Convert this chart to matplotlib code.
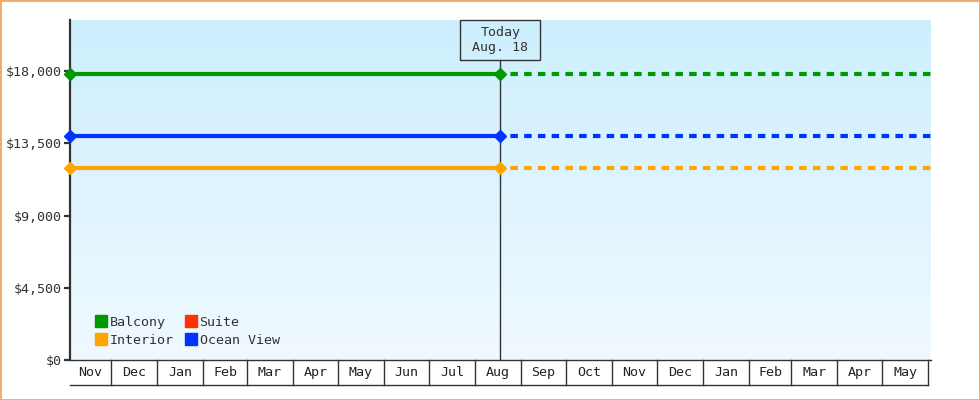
import numpy as np
import pandas as pd
import matplotlib
matplotlib.use("Agg")
import matplotlib.pyplot as plt
import matplotlib.dates as mdates
import matplotlib.transforms as mtransforms
from matplotlib.patches import Rectangle
from matplotlib.lines import Line2D

# ---------------------------------------------------------
# DATA
# ---------------------------------------------------------
start_date = pd.Timestamp("2023-11-03 12:00")
today = pd.Timestamp("2024-08-18")
end_date = pd.Timestamp("2025-06-02 14:00")

series_names = ["Balcony", "Interior", "Suite", "Ocean View"]
series_colors = ["#009900", "#ffa500", "#ff3300", "#0033ff"]
# price history (start, today) -- Suite has no prices
balcony = [17830, 17830]
interior = [11975, 11975]
suite = []
ocean_view = [13970, 13970]

y_ticks = [0, 4500, 9000, 13500, 18000]
y_max = 21200
today_label = "Today\nAug. 18"

# ---------------------------------------------------------
# STYLE
# ---------------------------------------------------------
plt.rcParams["font.family"] = ["DejaVu Sans Mono"]
plt.rcParams["font.size"] = 9.6
TXT = "#333333"

fig = plt.figure(figsize=(9.8, 4), dpi=100)
ax = fig.add_axes([70 / 980, 40 / 400, 860.7 / 980, 340 / 400])

# gradient background
grad = np.linspace(0, 1, 256).reshape(-1, 1)
cmap = matplotlib.colors.LinearSegmentedColormap.from_list("bg", ["#cdeffd", "#f0f9ff"])
ax.imshow(grad, cmap=cmap, aspect="auto", extent=[0, 1, 0, 1],
          transform=ax.transAxes, zorder=0)

x0 = mdates.date2num(start_date)
x1 = mdates.date2num(end_date)
xt = mdates.date2num(today)
ax.set_xlim(x0, x1)
ax.set_ylim(0, y_max)

# lines: solid history, dotted projection
history = [balcony, interior, suite, ocean_view]
for vals, col in zip(history, series_colors):
    if not vals:
        continue
    ax.plot([x0, xt], vals, color=col, lw=3, solid_capstyle="butt", zorder=3,
            clip_on=False)
    ax.plot([x0, xt], vals, ls="none", marker="D", ms=6, color=col, zorder=4,
            clip_on=False)
    ax.plot([xt, x1], [vals[-1], vals[-1]], color=col, lw=3,
            ls=(0.8, (1.8, 1.5)), zorder=3)

# today marker line and box
xaxis_tr = ax.get_xaxis_transform()
ax.plot([xt, xt], [0, 1 - 40.3 / 340], color=TXT, lw=1, transform=xaxis_tr, zorder=2)
box_tr = fig.dpi_scale_trans + mtransforms.ScaledTranslation(xt, 1.0, xaxis_tr)
ax.add_patch(Rectangle((-0.40, -0.403), 0.80, 0.403, transform=box_tr, fill=False,
                       ec=TXT, lw=1, clip_on=False, zorder=5))
ax.text(0, -0.2, today_label, transform=box_tr, ha="center", va="center",
        color=TXT, linespacing=1.25, zorder=6)

# y axis
ax.set_yticks(y_ticks)
ax.set_yticklabels([f"${v:,}" for v in y_ticks])
ax.tick_params(axis="y", length=4, width=1.6, color=TXT, labelcolor=TXT, pad=2)
ax.set_xticks([])
for s in ["top", "right"]:
    ax.spines[s].set_visible(False)
ax.spines["left"].set_color(TXT)
ax.spines["left"].set_linewidth(1.6)
ax.spines["bottom"].set_color(TXT)
ax.spines["bottom"].set_linewidth(1)

# month cells under the axis
month_starts = pd.date_range("2023-11-01", "2025-06-01", freq="MS")
cell_h = 25 / 340
edges = [mdates.date2num(d) for d in month_starts]
for e in edges:
    if x0 < e <= x1:
        ax.plot([e, e], [0, -cell_h], color=TXT, lw=1, transform=xaxis_tr, clip_on=False)
ax.plot([x0, edges[-1]], [-cell_h, -cell_h], color=TXT, lw=1, transform=xaxis_tr,
        clip_on=False)
for a, b, d in zip(edges[:-1], edges[1:], month_starts[:-1]):
    lo, hi = max(a, x0), min(b, x1)
    ax.text((lo + hi) / 2, -cell_h / 2, d.strftime("%b"), transform=xaxis_tr,
            ha="center", va="center", color="#222222")

# legend
handles = [Line2D([], [], ls="none", marker="s", ms=8, color=c) for c in series_colors]
ax.legend(handles, series_names, ncol=2, loc="lower left",
          bbox_to_anchor=(0.022, 0.02), frameon=False, handlelength=0.8,
          handletextpad=0.25, columnspacing=0.9, labelspacing=0.35,
          borderpad=0, labelcolor=TXT)

# orange border round the figure
fig.add_artist(Rectangle((0, 0), 1, 1, transform=fig.transFigure, fill=False,
                         ec="#eeaa66", lw=2))

fig.savefig("out.png", dpi=100)
